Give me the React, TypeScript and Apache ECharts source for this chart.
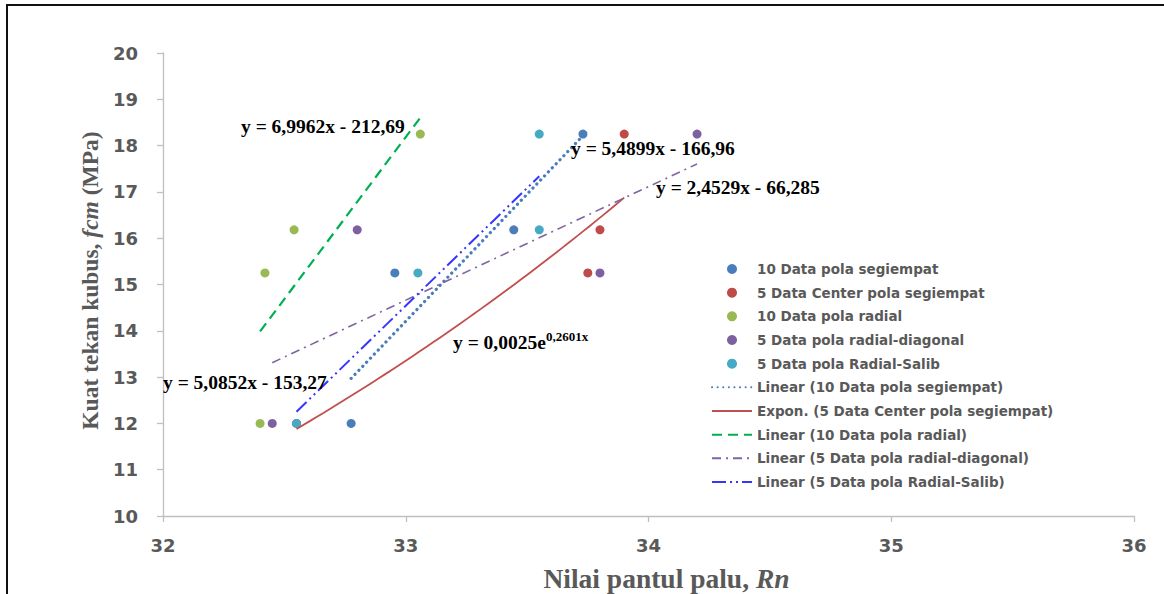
import React, { useEffect, useRef } from "react";
import * as echarts from "echarts";

// ---- data ----
const segiempatX = [33.73, 32.955, 33.445, 32.775];
const segiempatY = [18.25, 15.25, 16.18, 12.0];
const centerX = [32.55, 33.75, 33.8, 33.9];
const centerY = [12.0, 15.25, 16.18, 18.25];
const radialX = [32.4, 32.42, 32.54, 33.06];
const radialY = [12.0, 15.25, 16.18, 18.25];
const diagonalX = [32.45, 32.8, 33.8, 34.2];
const diagonalY = [12.0, 16.18, 15.25, 18.25];
const salibX = [32.55, 33.05, 33.55, 33.55];
const salibY = [12.0, 15.25, 16.18, 18.25];

// trendline coefficients (as printed on chart)
const linSegiempat = [5.4899, -166.96];
const expCenter = [0.0025, 0.2601];
const linRadial = [6.9962, -212.69];
const linDiagonal = [2.4529, -66.285];
const linSalib = [5.0852, -153.27];

const seriesNames = [
  "10 Data pola segiempat",
  "5 Data Center pola segiempat",
  "10 Data pola radial",
  "5 Data pola radial-diagonal",
  "5 Data pola Radial-Salib",
];
const trendNames = [
  "Linear (10 Data pola segiempat)",
  "Expon. (5 Data Center pola segiempat)",
  "Linear (10 Data pola radial)",
  "Linear (5 Data pola radial-diagonal)",
  "Linear (5 Data pola Radial-Salib)",
];
const xTicks = [32, 33, 34, 35, 36];
const yTicks = [10, 11, 12, 13, 14, 15, 16, 17, 18, 19, 20];

const colors = ["#4A7EBB", "#BE4B48", "#98B954", "#7D60A0", "#46AAC5"];

const pairs = (xs: number[], ys: number[]) => xs.map((x, i) => [x, ys[i]]);

const linLine = (xs: number[], c: number[]) => {
  const lo = Math.min(...xs);
  const hi = Math.max(...xs);
  return [lo, hi].map((x) => [x, c[0] * x + c[1]]);
};
const expLine = (xs: number[], c: number[]) => {
  const lo = Math.min(...xs);
  const hi = Math.max(...xs);
  const n = 24;
  const out: number[][] = [];
  for (let i = 0; i <= n; i++) {
    const x = lo + ((hi - lo) * i) / n;
    out.push([x, c[0] * Math.exp(c[1] * x)]);
  }
  return out;
};

export default function App() {
  const ref = useRef<HTMLDivElement>(null);
  useEffect(() => {
    if (!ref.current) return;
    const chart = echarts.init(ref.current, undefined, { renderer: "svg" });
    const scatterSets = [
      pairs(segiempatX, segiempatY),
      pairs(centerX, centerY),
      pairs(radialX, radialY),
      pairs(diagonalX, diagonalY),
      pairs(salibX, salibY),
    ];
    const scatterSeries = scatterSets.map((d, i) => ({
      type: "scatter",
      name: seriesNames[i],
      data: d,
      symbol: "circle",
      symbolSize: 9,
      itemStyle: { color: colors[i], opacity: 1 },
      z: 2,
    }));
    const trendData = [
      linLine(segiempatX, linSegiempat),
      expLine(centerX, expCenter),
      linLine(radialX, linRadial),
      linLine(diagonalX, linDiagonal),
      linLine(salibX, linSalib),
    ];
    const trendStyles: any[] = [
      { color: "#4A7EBB", width: 3.2, type: [0.1, 5.5], cap: "round" },
      { color: "#C0504D", width: 1.8, type: "solid" },
      { color: "#00B050", width: 2.2, type: [10, 6] },
      { color: "#8064A2", width: 1.6, type: [9, 5, 2, 5] },
      { color: "#3535FF", width: 2, type: [14, 4, 2, 4, 2, 4] },
    ];
    const trendSeries = trendData.map((d, i) => ({
      type: "line",
      name: trendNames[i],
      data: d,
      symbol: "none",
      showSymbol: false,
      smooth: i === 1,
      lineStyle: trendStyles[i],
      itemStyle: { color: trendStyles[i].color },
      z: 3,
    }));

    const eqFont = 'bold 19.5px "Liberation Serif", "Times New Roman", serif';
    const eq = (text: string, x: number, y: number) => ({
      type: "text",
      x,
      y,
      z: 10,
      style: { text, font: eqFont, fill: "#000", textVerticalAlign: "middle" },
    });

    const titleRich = (size: number) => ({
      a: { fontFamily: '"Liberation Serif", serif', fontWeight: "bold", fontSize: size, color: "#595959" },
      b: { fontFamily: '"Liberation Serif", serif', fontWeight: "bold", fontStyle: "italic", fontSize: size, color: "#595959" },
    });

    chart.setOption({
      animation: false,
      backgroundColor: "#fff",
      grid: { left: 163, right: 30, top: 53, bottom: 78, containLabel: false, outerBoundsMode: "none" },
      xAxis: {
        type: "value",
        min: xTicks[0],
        max: xTicks[xTicks.length - 1],
        interval: 1,
        axisLine: { show: true, lineStyle: { color: "#BFBFBF", width: 1.3 } },
        axisTick: { show: true, length: 6, lineStyle: { color: "#BFBFBF", width: 1.3 } },
        splitLine: { show: false },
        axisLabel: {
          margin: 20,
          color: "#595959",
          fontFamily: '"DejaVu Sans", sans-serif',
          fontWeight: "bold",
          fontSize: 18,
        },
        name: "{a|Nilai pantul palu, }{b|Rn}",
        nameLocation: "middle",
        nameGap: 48,
        nameTextStyle: { rich: titleRich(27.5), padding: [0, 0, 0, 36] },
      },
      yAxis: {
        type: "value",
        min: yTicks[0],
        max: yTicks[yTicks.length - 1],
        interval: 1,
        axisLine: { show: true, lineStyle: { color: "#BFBFBF", width: 1.3 } },
        axisTick: { show: true, length: 6, lineStyle: { color: "#BFBFBF", width: 1.3 } },
        splitLine: { show: false },
        axisLabel: {
          margin: 25,
          color: "#595959",
          fontFamily: '"DejaVu Sans", sans-serif',
          fontWeight: "bold",
          fontSize: 18,
        },
        name: "{a|Kuat tekan kubus, }{b|fcm}{a| (MPa)}",
        nameLocation: "middle",
        nameGap: 58,
        nameRotate: 90,
        nameTextStyle: { rich: titleRich(23.5), padding: [0, 0, 0, 8] },
      },
      legend: {
        orient: "vertical",
        left: 706,
        top: 256,
        itemWidth: 40,
        itemHeight: 10,
        itemGap: 7.67,
        data: [
          ...seriesNames.map((n) => ({ name: n })),
          ...trendNames.map((n) => ({ name: n, itemStyle: { opacity: 0 } })),
        ],
        textStyle: {
          fontFamily: '"DejaVu Sans", sans-serif',
          fontSize: 13.5,
          fontWeight: "bold",
          lineHeight: 16,
          color: "#595959",
        },
      },
      graphic: [
        {
          type: "rect",
          shape: { x: 7, y: 5, width: 1200, height: 620 },
          style: { fill: "none", stroke: "#111", lineWidth: 2 },
          z: 20,
          silent: true,
        },
        eq("y = 6,9962x - 212,69", 241, 126),
        eq("y = 5,4899x - 166,96", 571, 148),
        eq("y = 2,4529x - 66,285", 656, 187),
        {
          type: "text",
          x: 453,
          y: 341,
          z: 10,
          style: {
            text: "{a|y = 0,0025e}{b|0,2601x}",
            textVerticalAlign: "middle",
            rich: {
              a: {
                fontFamily: '"Liberation Serif", serif',
                fontWeight: "bold",
                fontSize: 19.5,
                lineHeight: 22,
                color: "#000",
                verticalAlign: "bottom",
              },
              b: {
                fontFamily: '"Liberation Serif", serif',
                fontWeight: "bold",
                fontSize: 13,
                lineHeight: 22,
                color: "#000",
                verticalAlign: "top",
                padding: [0, 0, 8, 0],
              },
            },
          },
        },
        eq("y = 5,0852x - 153,27", 163, 382),
      ],
      series: [...scatterSeries, ...trendSeries],
    });
    return () => chart.dispose();
  }, []);
  return (
    <div
      ref={ref}
      style={{ position: "absolute", left: 0, top: 0, width: 1164, height: 594, background: "#fff" }}
    />
  );
}
